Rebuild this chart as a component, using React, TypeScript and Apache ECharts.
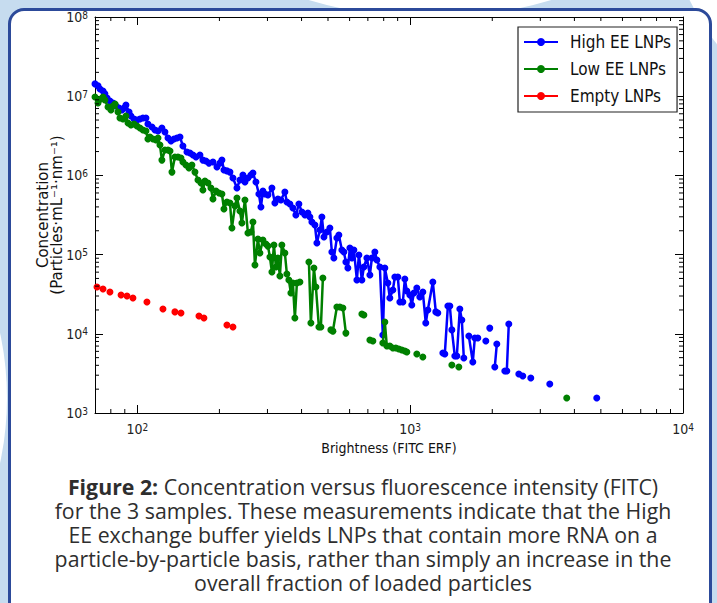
import React, { useEffect, useRef } from 'react';
import * as echarts from 'echarts';

const X_MIN = 70;
const X_MAX = 10000;
const Y_MIN = 1000;
const Y_MAX = 1e8;

// [brightness, concentration]; null = empty bin (line break)
const highEE: [number, number | null][] = [
  [70.0, 1.43e7], [71.8, 1.35e7], [73.0, 1.23e7], [74.9, 1.16e7], [76.1, 1.07e7], [77.5, 9.49e6],
  [79.4, 8.7e6], [81.5, 8.21e6], [83.6, 7.52e6], [85.7, 7.1e6], [87.9, 6.69e6], [89.4, 7.1e6],
  [90.9, 7.74e6], [93.3, 6.32e6], [94.8, 5.62e6], [97.3, 5.15e6], [99.7, 5.01e6], [102.3, 5.15e6],
  [104.9, 5.31e6], [107.6, 5.31e6], [109.4, 4.46e6], [113.2, 4.08e6], [116.1, 3.74e6], [119.1, 3.64e6],
  [123.1, 3.97e6], [126.3, 3.53e6], [129.6, 2.97e6], [132.9, 2.72e6], [136.3, 2.88e6], [139.8, 2.97e6],
  [143.4, 3.05e6], [147.0, 2.35e6], [152.1, 1.97e6], [156.0, 1.92e6], [160.0, 1.81e6], [164.1, 1.71e6],
  [169.7, 1.81e6], [174.0, 1.56e6], [178.5, 1.52e6], [183.1, 1.43e6], [189.4, 1.48e6], [195.9, 1.28e6],
  [200.9, 1.43e6], [204.3, 1.56e6], [207.8, 1.17e6], [213.1, 1.14e6], [218.6, 1.1e6], [224.2, 9.27e5],
  [231.9, 6.93e5], [237.8, 8.75e5], [243.9, 1.01e6], [248.1, 8.25e5], [254.4, 9.27e5], [261.0, 1.01e6],
  [265.4, 1.07e6], [272.2, 8.25e5], [279.1, 5.82e5], [283.9, 3.99e5], [288.7, 6.35e5], [293.6, 5.82e5],
  [301.2, 5.65e5], [311.5, 6.93e5], [319.4, 4.48e5], [327.6, 5.04e5], [336.0, 4.89e5], [347.5, 6.17e5],
  [353.4, 4.61e5], [362.5, 4.35e5], [371.8, 3.88e5], [381.3, 3.16e5], [391.1, 4.35e5], [401.2, 3.45e5],
  [411.5, 3.16e5], [422.0, 3.35e5], [429.2, 2.98e5], [436.5, 2.58e5], [447.7, 2.36e5], [455.3, 1.4e5],
  [467.0, 2.04e5], [474.9, 2.98e5], [483.1, 1.67e5], [495.3, 1.93e5], [507.9, 2.17e5], [516.6, 1.08e5],
  [525.4, 9.06e4], [538.9, 1.62e5], [548.0, 1.77e5], [562.1, 1.14e5], [571.7, 1.08e5], [581.5, 8.07e4],
  [591.3, 6.77e4], [601.4, 1.21e5], [611.6, 9.06e4], [622.1, 1.14e5], [638.0, 4.78e4], [648.9, 9.88e4],
  [665.5, 4.78e4], [676.8, 6.97e4], [694.2, 9.06e4], [712.0, 5.53e4], [724.1, 9.06e4], [742.6, 1.08e5],
  [755.2, 8.55e4], [774.6, 6.97e4], [794.3, 9.65e3], [807.8, 6.77e4], [828.5, 4.38e4], [842.6, 2.83e4],
  [864.2, 3.57e4], [879.0, 5.21e4], [901.5, 5.21e4], [916.9, 2.52e4], [940.4, 2.52e4], [956.3, 4.92e4],
  [972.5, 3.47e4], [997.5, 3.09e4], [1014, 2.31e4], [1032, 3.28e4], [1058, 3.79e4], [1085, 2.91e4],
  [1113, 3.37e4], [1141, 1.37e4], [1161, 2.0e4], [1211, 4.51e4], [1242, 1.89e4], [1263, 1.83e4],
  [1290, null],
  [1318, 5.72e3], [1340, 5.56e3], [1375, 2.24e4], [1398, 2.24e4], [1422, 1.12e4], [1458, 5.24e3],
  [1483, 5.24e3], [1521, 2.06e4], [1547, 1.49e4], [1573, 4.95e3],
  [1607, null],
  [1641, 9.38e3], [1697, 4.4e3], [1726, 8.85e3], [1770, 8.85e3],
  [1830, null], [1894, 8.11e3], [1925, null], [1958, 1.18e4], [2000, null],
  [2043, 3.81e3], [2078, 7.43e3], [2150, null],
  [2223, 3.39e3], [2261, 3.39e3], [2299, 1.33e4], [2400, null],
  [2502, 3.11e3], [2587, 2.93e3], [2680, null], [2768, 2.77e3], [3000, null],
  [3249, 2.32e3], [4000, null], [4830, 1.55e3],
];

const lowEE: [number, number | null][] = [
  [70.0, 9.77e6], [71.8, 8.21e6], [73.6, 9.22e6], [74.9, 9.77e6], [76.1, 8.95e6], [78.1, 7.31e6],
  [80.1, 6.69e6], [81.5, 7.52e6], [82.9, 7.97e6], [85.0, 6.32e6], [86.4, 5.31e6], [88.6, 5.15e6],
  [90.9, 5.62e6], [92.5, 4.59e6], [94.8, 4.33e6], [97.3, 4.46e6], [99.7, 4.2e6], [102.3, 3.97e6],
  [104.9, 3.74e6], [107.6, 3.64e6], [109.4, 2.88e6], [111.3, 3.05e6], [114.2, 2.88e6], [117.1, 2.8e6],
  [119.1, 2.97e6], [121.1, 2.42e6], [123.1, 1.56e6], [126.3, 2.09e6], [129.6, 2.09e6], [131.8, 2.03e6],
  [134.0, 1.1e6], [137.4, 1.71e6], [141.0, 1.71e6], [144.6, 1.66e6], [147.0, 1.48e6], [150.8, 1.35e6],
  [154.7, 1.24e6], [158.6, 1.35e6], [162.7, 1.1e6], [166.9, 8.75e5], [171.2, 8.02e5], [174.0, 6.54e5],
  [177.0, 8.5e5], [181.6, 8.02e5], [186.2, 6.93e5], [189.4, 5.04e5], [194.3, 6.35e5], [199.3, 5.99e5],
  [204.3, 5.82e5], [207.8, 3.77e5], [213.1, 4.61e5], [218.6, 4.48e5], [222.3, 2.17e5], [228.0, 4.11e5],
  [231.9, 5.18e5], [237.8, 3.55e5], [241.8, 2.51e5], [248.1, 4.89e5], [254.4, 1.87e5], [261.0, 1.93e5],
  [265.4, 2.58e5], [269.9, 7.39e4], [276.8, 1.57e5], [281.5, 1.05e5], [288.7, 1.53e5], [296.1, 1.36e5],
  [301.2, 1.28e5], [306.3, 9.33e4], [311.5, 6.03e4], [316.8, 1.32e5], [322.2, 6.97e4], [327.6, 9.06e4],
  [333.2, 5.37e4], [338.8, 1.32e5], [347.5, 1.05e5], [353.4, 5.69e4], [359.4, 4.78e4], [365.6, 3.28e4],
  [371.8, 4.38e4], [378.1, 1.58e4], [384.6, 4.38e4], [394.5, 4.51e4],
  [410, null],
  [425.6, 8.07e4], [432.8, 1.37e4], [444.0, 6.77e4], [451.5, 3.9e4], [463.1, 1.22e4], [470.9, 1.22e4],
  [478.9, 5.06e4],
  [495, null],
  [512.3, 1.12e4], [521.0, 1.08e4], [538.9, 2.18e4], [552.6, 2.18e4], [567.0, 2.12e4], [581.5, 1.02e4],
  [620, null], [665.5, 1.78e4], [676.8, 1.73e4], [694, null], [712.0, 8.35e3], [730.2, 8.11e3], [760, null],
  [794.3, 7.65e3], [807.8, 1.41e4], [821.5, 7.01e3], [842.6, 7.01e3], [864.2, 6.62e3], [886.4, 6.62e3],
  [909.1, 6.43e3], [932.4, 6.24e3], [956.3, 6.06e3], [972.5, 5.89e3],
  [1015, null], [1058, 5.56e3], [1085, null], [1113, 5.09e3], [1250, null], [1422, 4.04e3], [1465, null],
  [1508, 3.81e3], [2500, null], [3749, 1.55e3],
];

const emptyLNP: [number, number | null][] = [
  [71.2, 3.9e4], [73, null], [74.9, 3.68e4], [77, null], [79.4, 3.37e4], [83, null], [87.2, 3.09e4],
  [89, null], [91.7, 3.0e4], [94, null], [96.4, 2.83e4], [102, null], [108.5, 2.52e4], [116, null],
  [124.2, 2.06e4], [130, null], [137.4, 1.89e4], [141, null], [144.6, 1.83e4], [155, null],
  [168.3, 1.68e4], [172, null], [175.5, 1.58e4], [195, null], [213.1, 1.29e4], [218, null], [224.2, 1.22e4],
];

const seriesNames = ['High EE LNPs', 'Low EE LNPs', 'Empty LNPs'];
const seriesColors = ['#0000ff', '#008000', '#ff0000'];

const xMinorTicks = [80, 90, 200, 300, 400, 500, 600, 700, 800, 900, 2000, 3000, 4000, 5000, 6000, 7000, 8000, 9000];
const yMinorTicks = [
  2e3, 3e3, 4e3, 5e3, 6e3, 7e3, 8e3, 9e3,
  2e4, 3e4, 4e4, 5e4, 6e4, 7e4, 8e4, 9e4,
  2e5, 3e5, 4e5, 5e5, 6e5, 7e5, 8e5, 9e5,
  2e6, 3e6, 4e6, 5e6, 6e6, 7e6, 8e6, 9e6,
  2e7, 3e7, 4e7, 5e7, 6e7, 7e7, 8e7, 9e7,
];

const xAxisTitle = 'Brightness (FITC ERF)';
const yAxisTitle = 'Concentration\n(Particles·mL⁻¹·nm⁻¹)';

const captionBold = 'Figure 2:';
const captionLines = [
  ' Concentration versus fluorescence intensity (FITC)',
  'for the 3 samples. These measurements indicate that the High',
  'EE exchange buffer yields LNPs that contain more RNA on a',
  'particle-by-particle basis, rather than simply an increase in the',
  'overall fraction of loaded particles',
];

const PLOT_FONT = "'DejaVu Sans Condensed', 'Liberation Sans Narrow', 'DejaVu Sans', sans-serif";
const CAPTION_FONT = "'Open Sans', sans-serif";

function powLabel(v: number): string {
  const l = Math.log10(v);
  const e = Math.round(l);
  if (Math.abs(l - e) > 1e-6) return '';
  return `{b|10}{s|${e}}`;
}

const tickRich = {
  b: { fontFamily: PLOT_FONT, fontSize: 14, color: '#222', lineHeight: 14, verticalAlign: 'bottom' },
  s: { fontFamily: PLOT_FONT, fontSize: 10, color: '#222', lineHeight: 10, verticalAlign: 'top', padding: [0, 0, 7, 0] },
};

export default function App() {
  const ref = useRef<HTMLDivElement>(null);

  useEffect(() => {
    if (!ref.current) return;
    const chart = echarts.init(ref.current, undefined, { renderer: 'svg' });

    const axisLine = { show: true, onZero: false, lineStyle: { color: '#000', width: 1 } };
    const axisTick = { show: true, inside: true, length: 8, lineStyle: { color: '#000', width: 1 } };

    const minorData = [
      ...xMinorTicks.map((v) => [v, Y_MIN, 0]),
      ...yMinorTicks.map((v) => [X_MIN, v, 1]),
    ];

    const toData = (arr: [number, number | null][]) => arr.map(([x, y]) => (y === null ? [x, '-'] : [x, y]));

    const option: any = {
      animation: false,
      grid: { left: 95, top: 17, width: 588, height: 396, containLabel: false },
      legend: {
        data: seriesNames,
        orient: 'vertical',
        left: 518,
        top: 27,
        itemWidth: 34,
        itemHeight: 10,
        itemGap: 7,
        padding: [5, 6, 6, 5],
        borderColor: '#222',
        borderWidth: 1.2,
        borderRadius: 0,
        backgroundColor: '#fff',
        textStyle: { fontFamily: PLOT_FONT, fontSize: 17, color: '#111', lineHeight: 20, padding: [0, 0, 0, 7] },
      },
      xAxis: [
        {
          type: 'log', logBase: 10, min: X_MIN, max: X_MAX, position: 'bottom',
          name: xAxisTitle, nameLocation: 'middle', nameGap: 28, nameMoveOverlap: false,
          nameTextStyle: { fontFamily: PLOT_FONT, fontSize: 14, color: '#111' },
          axisLine, axisTick,
          axisLabel: { margin: 9, formatter: powLabel, rich: tickRich },
          splitLine: { show: false },
        },
        {
          type: 'log', logBase: 10, min: X_MIN, max: X_MAX, position: 'top',
          axisLine, axisTick, axisLabel: { show: false }, splitLine: { show: false },
        },
      ],
      yAxis: [
        {
          type: 'log', logBase: 10, min: Y_MIN, max: Y_MAX, position: 'left',
          name: yAxisTitle, nameLocation: 'middle', nameGap: 31, nameMoveOverlap: false,
          nameTextStyle: { fontFamily: "'DejaVu Sans', sans-serif", fontSize: 15, color: '#111', lineHeight: 14 },
          axisLine, axisTick,
          axisLabel: { margin: 7, formatter: powLabel, rich: tickRich },
          splitLine: { show: false },
        },
        {
          type: 'log', logBase: 10, min: Y_MIN, max: Y_MAX, position: 'right',
          axisLine, axisTick, axisLabel: { show: false }, splitLine: { show: false },
        },
      ],
      series: [
        ...[highEE, lowEE, emptyLNP].map((arr, i) => ({
          type: 'line',
          name: seriesNames[i],
          data: toData(arr),
          symbol: 'circle',
          symbolSize: 7,
          showSymbol: true,
          connectNulls: false,
          lineStyle: { color: seriesColors[i], width: 2.5 },
          itemStyle: { color: seriesColors[i] },
          emphasis: { disabled: true },
          z: 2 + i,
        })),
        {
          type: 'custom',
          silent: true,
          clip: false,
          z: 10,
          dimensions: ['x', 'y', 'k'],
          encode: { x: 0, y: 1 },
          data: minorData,
          renderItem: (_params: any, api: any) => {
            const k = api.value(2);
            const st = { stroke: '#000', lineWidth: 1 };
            if (k === 0) {
              const b = api.coord([api.value(0), Y_MIN]);
              const t = api.coord([api.value(0), Y_MAX]);
              return {
                type: 'group',
                children: [
                  { type: 'line', shape: { x1: b[0], y1: b[1], x2: b[0], y2: b[1] - 4 }, style: st },
                  { type: 'line', shape: { x1: t[0], y1: t[1], x2: t[0], y2: t[1] + 4 }, style: st },
                ],
              };
            }
            const l = api.coord([X_MIN, api.value(1)]);
            const r = api.coord([X_MAX, api.value(1)]);
            return {
              type: 'group',
              children: [
                { type: 'line', shape: { x1: l[0], y1: l[1], x2: l[0] + 4, y2: l[1] }, style: st },
                { type: 'line', shape: { x1: r[0], y1: r[1], x2: r[0] - 4, y2: r[1] }, style: st },
              ],
            };
          },
        },
      ],
    };

    chart.setOption(option);
    return () => chart.dispose();
  }, []);

  return (
    <div style={{ position: 'fixed', left: 0, top: 0, width: 717, height: 603, overflow: 'hidden', background: '#c6dcef' }}>
      <div style={{ position: 'absolute', left: 430 - 418, top: -400 - 418, width: 836, height: 836, borderRadius: '50%', background: '#fff' }} />
      <div style={{ position: 'absolute', left: 900 - 233, top: -100 - 233, width: 466, height: 466, borderRadius: '50%', background: '#fff' }} />
      <div style={{ position: 'absolute', left: -300 - 307, top: 398 - 307, width: 614, height: 614, borderRadius: '50%', background: '#fff' }} />
      <div style={{ position: 'absolute', left: 8, top: 8, width: 704, height: 660, boxSizing: 'border-box', border: '3px solid #2c4a9a', borderRadius: 16, background: '#fff' }} />
      <div ref={ref} style={{ position: 'absolute', left: 0, top: 0, width: 717, height: 603 }} />
      <div
        style={{
          position: 'absolute', left: 23, top: 475, width: 680, textAlign: 'center',
          fontFamily: CAPTION_FONT, fontSize: 21.3, lineHeight: '24px', color: '#2e2e2e', whiteSpace: 'nowrap',
        }}
      >
        <b>{captionBold}</b>{captionLines[0]}<br />
        {captionLines[1]}<br />
        {captionLines[2]}<br />
        {captionLines[3]}<br />
        {captionLines[4]}
      </div>
    </div>
  );
}
